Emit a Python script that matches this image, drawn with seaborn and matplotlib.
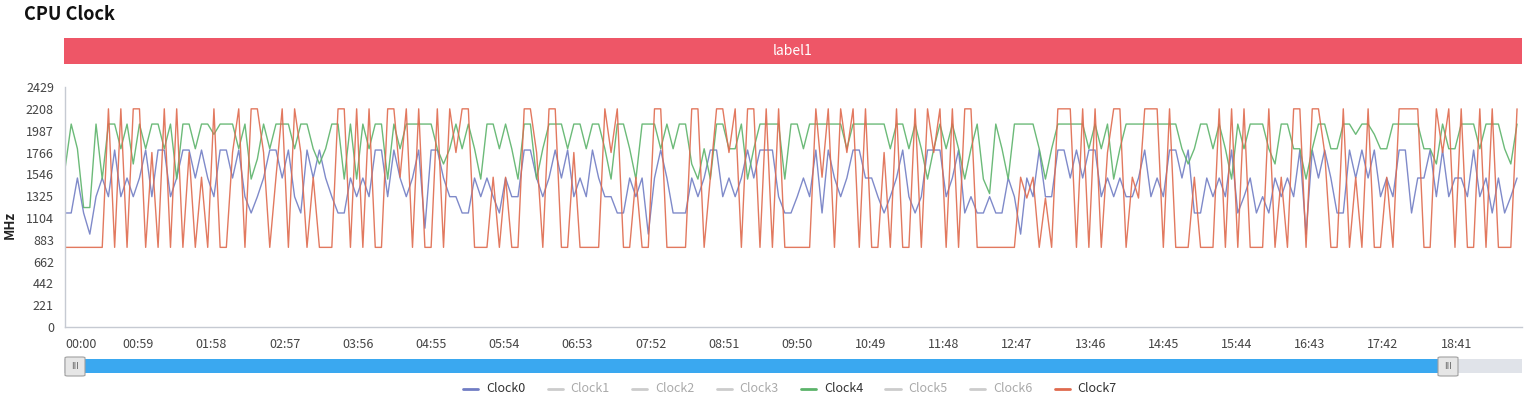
import numpy as np
import pandas as pd
import matplotlib
matplotlib.use('Agg')
import matplotlib.pyplot as plt
from matplotlib.patches import Rectangle, FancyBboxPatch
from matplotlib.lines import Line2D
import seaborn as sns

# clock values in MHz, one sample every 5 seconds
clock0 = [1154, 1154, 1508, 1154, 940, 1319, 1508, 1319, 1791, 1319, 1508, 1319, 1508, 1791, 1319, 1791,
          1791, 1319, 1508, 1791, 1791, 1508, 1791, 1508, 1319, 1791, 1791, 1508, 1791, 1319, 1154, 1319,
          1508, 1791, 1791, 1508, 1791, 1319, 1154, 1791, 1508, 1791, 1508, 1319, 1154, 1154, 1508,
          1319, 1508, 1319, 1791, 1791, 1319, 1791, 1508, 1319, 1508, 1791, 1000, 1791, 1791, 1508, 1319,
          1319, 1154, 1154, 1508, 1319, 1508, 1319, 1154, 1508, 1319, 1319, 1791, 1791, 1508, 1319, 1508,
          1791, 1508, 1791, 1319, 1508, 1319, 1791, 1508, 1319, 1319, 1154, 1154, 1508, 1319, 1508,
          940, 1508, 1791, 1508, 1154, 1154, 1154, 1508, 1319, 1508, 1791, 1791, 1319, 1508, 1319, 1508,
          1791, 1508, 1791, 1791, 1791, 1319, 1154, 1154, 1319, 1508, 1319, 1791, 1154, 1791, 1508, 1319,
          1508, 1791, 1791, 1508, 1508, 1319, 1154, 1319, 1508, 1791, 1319, 1154, 1319, 1791, 1791,
          1791, 1319, 1508, 1791, 1154, 1319, 1154, 1154, 1319, 1154, 1154, 1508, 1319, 940, 1508, 1319,
          1791, 1319, 1319, 1791, 1791, 1508, 1791, 1508, 1791, 1791, 1319, 1508, 1319, 1508, 1319, 1319,
          1508, 1791, 1319, 1508, 1319, 1791, 1791, 1508, 1791, 1154, 1154, 1508, 1319, 1508, 1319,
          1791, 1154, 1319, 1508, 1154, 1319, 1154, 1508, 1319, 1508, 1319, 1791, 940, 1791, 1508, 1791,
          1508, 1154, 1154, 1791, 1508, 1791, 1508, 1791, 1319, 1508, 1319, 1791, 1791, 1154, 1508, 1508,
          1791, 1319, 1791, 1319, 1508, 1508, 1319, 1791, 1319, 1508, 1154, 1508, 1154, 1319, 1508]

clock4 = [1600, 2054, 1804, 1209, 1209, 2054, 1497, 2054, 2054, 1804, 2054, 1650, 2054, 1804, 2054, 2054,
          1804, 2054, 1497, 2054, 2054, 1804, 2054, 2054, 1950, 2054, 2054, 2054, 1804, 2054, 1497, 1700,
          2054, 1804, 2054, 2054, 2054, 1804, 2054, 2054, 1804, 1650, 1804, 2054, 2054, 1497, 2054,
          1497, 2054, 1804, 2054, 2054, 1497, 2054, 1804, 2054, 2054, 2054, 2054, 2054, 1804, 1650, 1804,
          2054, 1804, 2054, 1804, 1497, 2054, 2054, 1804, 2054, 1804, 1497, 2054, 2054, 1497, 1804, 2054,
          2054, 2054, 1804, 2054, 2054, 1804, 2054, 2054, 1804, 1497, 2054, 2054, 1804, 1497, 2054,
          2054, 2054, 1804, 2054, 1804, 2054, 2054, 1650, 1497, 1804, 1497, 2054, 2054, 1804, 1804, 2054,
          1497, 1804, 2054, 2054, 2054, 2054, 1497, 2054, 2054, 1804, 2054, 2054, 2054, 2054, 2054, 2054,
          1804, 2054, 2054, 2054, 2054, 2054, 2054, 1804, 2054, 2054, 1804, 2054, 1804, 1497, 1804,
          2054, 1804, 2054, 1804, 1497, 1804, 2054, 1497, 1350, 2054, 1804, 1497, 2054, 2054, 2054, 2054,
          1804, 1497, 1804, 2054, 2054, 2054, 2054, 2054, 1804, 2054, 1804, 2054, 1497, 1804, 2054, 2054,
          2054, 2054, 2054, 2054, 2054, 2054, 2054, 1804, 1650, 1804, 2054, 2054, 1804, 2054, 1804,
          1497, 2054, 1804, 2054, 2054, 2054, 1804, 1650, 2054, 2054, 1804, 1804, 1497, 1804, 2054, 2054,
          1804, 1804, 2054, 2054, 1950, 2054, 2054, 1950, 1804, 1804, 2054, 2054, 2054, 2054, 2054, 1804,
          1804, 1650, 2054, 1804, 1804, 2054, 2054, 2054, 1804, 2054, 2054, 2054, 1804, 1650, 2054]

clock7 = [806, 806, 806, 806, 806, 806, 806, 2208, 806, 2208, 806, 2208, 2208, 806, 1766, 806,
          2208, 806, 2208, 806, 1766, 806, 1516, 806, 2208, 806, 806, 1766, 2208, 806, 2208, 2208,
          1766, 806, 1516, 2208, 806, 2208, 1766, 806, 1516, 806, 806, 806, 2208, 2208, 806,
          2208, 806, 2208, 806, 806, 2208, 2208, 1516, 2208, 806, 2208, 806, 806, 2208, 806, 2208,
          1766, 2208, 2208, 806, 806, 806, 1516, 806, 1516, 806, 806, 2208, 2208, 1766, 806, 2208,
          2208, 806, 806, 1766, 806, 806, 806, 806, 2208, 1766, 2208, 806, 806, 1516, 806,
          806, 2208, 2208, 806, 806, 806, 806, 2208, 2208, 806, 1516, 2208, 2208, 1766, 2208, 806,
          2208, 2208, 806, 2208, 806, 2208, 806, 806, 806, 806, 806, 2208, 1516, 2208, 806, 2208,
          1766, 2208, 806, 2208, 806, 806, 1766, 806, 2208, 806, 806, 2208, 806, 2208, 1766,
          2208, 806, 2208, 806, 2208, 2208, 806, 806, 806, 806, 806, 806, 806, 1516, 1305, 1516,
          806, 1305, 806, 2208, 2208, 2208, 806, 2208, 806, 2208, 806, 1766, 2208, 2208, 806, 1516,
          1305, 2208, 2208, 2208, 806, 2208, 806, 806, 806, 1516, 806, 806, 806, 2208, 806,
          2208, 806, 2208, 806, 806, 806, 2208, 806, 1516, 806, 2208, 2208, 806, 2208, 2208, 1766,
          806, 806, 2208, 806, 1516, 806, 2208, 806, 806, 1516, 806, 2208, 2208, 2208, 2208, 806,
          806, 2208, 1766, 2208, 806, 2208, 806, 806, 2208, 806, 2208, 806, 806, 806, 2208]

sample_step = 5
x_end = 1174
tick_labels = ['00:00', '00:59', '01:58', '02:57', '03:56', '04:55', '05:54', '06:53', '07:52', '08:51',
               '09:50', '10:49', '11:48', '12:47', '13:46', '14:45', '15:44', '16:43', '17:42', '18:41']
y_ticks = [0, 221, 442, 662, 883, 1104, 1325, 1546, 1766, 1987, 2208, 2429]
legend_names = ['Clock0', 'Clock1', 'Clock2', 'Clock3', 'Clock4', 'Clock5', 'Clock6', 'Clock7']
colors = {'Clock0': '#717dc4', 'Clock4': '#5cb36a', 'Clock7': '#df6a4e'}

sns.set_style('white')
plt.rcParams['font.family'] = ['Noto Sans CJK SC', 'DejaVu Sans']

W, H = 1540, 401
fig = plt.figure(figsize=(W / 100, H / 100), dpi=100)


def fx(px):
    return px / W


def fy(py):
    return 1 - py / H


ax = fig.add_axes([fx(65), fy(327), fx(1522) - fx(65), fy(87) - fy(327)])

times = np.arange(len(clock0)) * sample_step
df = pd.DataFrame({'t': times, 'Clock0': clock0, 'Clock4': clock4, 'Clock7': clock7})
long_df = df.melt(id_vars='t', var_name='clock', value_name='mhz')
sns.lineplot(data=long_df, x='t', y='mhz', hue='clock', palette=colors, hue_order=['Clock0', 'Clock4', 'Clock7'],
             estimator=None, linewidth=1, alpha=0.9, legend=False, ax=ax)

ax.set_xlim(0, x_end)
ax.set_ylim(0, 2429)
ax.set_yticks(y_ticks)
ax.set_yticklabels([str(v) for v in y_ticks])
tick_pos = [int(s[:2]) * 60 + int(s[3:]) for s in tick_labels]
ax.set_xticks(tick_pos)
ax.set_xticklabels(tick_labels)
ax.get_xticklabels()[0].set_ha('left')
ax.set_xlabel('')
ax.set_ylabel('')
for side in ['top', 'right']:
    ax.spines[side].set_visible(False)
for side in ['left', 'bottom']:
    ax.spines[side].set_color('#c6cad2')
    ax.spines[side].set_linewidth(1)
ax.tick_params(axis='both', direction='out', length=5, width=1, color='#c6cad2',
               labelsize=9, labelcolor='#444444', pad=3)
ax.grid(False)

fig.text(fx(10), fy(225), 'MHz', rotation=90, ha='center', va='center', fontsize=9.5, fontweight='bold', color='#222222')
fig.text(fx(24), fy(14), 'CPU Clock', ha='left', va='center', fontsize=13, fontweight='bold', color='#111111')

# banner
fig.add_artist(Rectangle((fx(64), fy(64)), fx(1522) - fx(64), (64 - 38) / H, transform=fig.transFigure,
                         color='#ee5667', lw=0))
fig.text(fx(793), fy(51), 'label1', ha='center', va='center', fontsize=10, color='white')

# zoom slider
fig.add_artist(Rectangle((fx(64), fy(373)), fx(1522) - fx(64), 14 / H, transform=fig.transFigure,
                         color='#e0e3e9', lw=0))
fig.add_artist(Rectangle((fx(75), fy(373)), fx(1448) - fx(75), 14 / H, transform=fig.transFigure,
                         color='#3aa8f0', lw=0))
for hx in [65, 1438]:
    fig.add_artist(FancyBboxPatch((fx(hx), fy(376)), 20 / W, 19 / H, boxstyle='round,pad=0,rounding_size=0.002',
                                  transform=fig.transFigure, facecolor='#e6e6e6', edgecolor='#a0a0a0', lw=0.8))
    fig.text(fx(hx + 10), fy(366.5), 'III', ha='center', va='center', fontsize=6.5, color='#666666')

# legend
for i, name in enumerate(legend_names):
    x0 = 463 + i * 84.5
    active = name in colors
    lc = colors.get(name, '#cccccc')
    tc = '#333333' if active else '#aaaaaa'
    fig.add_artist(Line2D([fx(x0), fx(x0 + 15)], [fy(389), fy(389)], transform=fig.transFigure, color=lc, lw=2))
    fig.text(fx(x0 + 23), fy(389), name, ha='left', va='center', fontsize=9, color=tc)

fig.savefig('out.png', dpi=100)
